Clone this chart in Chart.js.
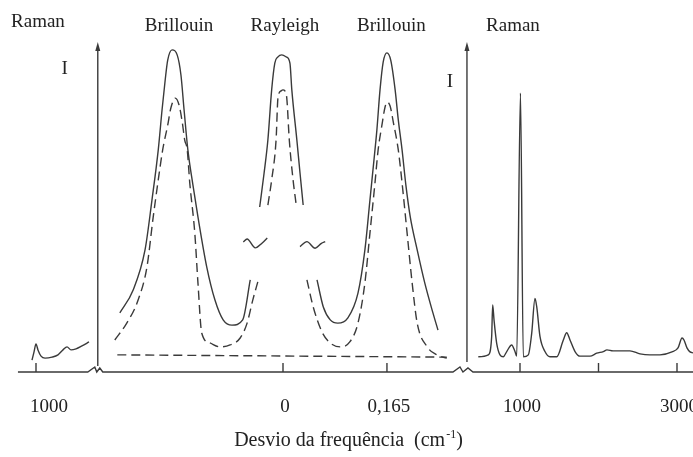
<!DOCTYPE html>
<html>
<head>
<meta charset="utf-8">
<script src="https://cdn.jsdelivr.net/npm/chart.js@4"></script>
<style>
  body { margin: 0; background: #fff; }
</style>
</head>
<body>
<canvas id="chart" width="693" height="457"></canvas>
<script>
// shift in cm-1, intensity in arbitrary units (0-100)

// anti-Stokes Raman piece (left of the first break)
let ramanLeftShift = [-1051, -1025, -1000, -975, -936, -885, -796, -720, -656, -605, -554, -490, -414, -325];
let ramanLeftInt   = [3.6, 6.1, 8.5, 6.7, 4.8, 4.2, 4.5, 5.2, 6.7, 7.6, 6.7, 7.0, 7.9, 9.1];

// solid envelope: left Brillouin + Rayleigh wing
let solidLeftShift = [-0.259, -0.238, -0.219, -0.208, -0.198, -0.192, -0.187, -0.183, -0.176, -0.168, -0.162, -0.157, -0.151, -0.143, -0.135, -0.121, -0.108, -0.095, -0.081, -0.064, -0.052];
let solidLeftInt   = [17.9, 24.8, 37.0, 52.1, 67.3, 79.4, 88.5, 94.5, 97.6, 96.1, 90.0, 79.4, 67.3, 56.7, 47.0, 31.8, 21.8, 15.8, 14.2, 15.8, 27.9];

// solid Rayleigh peak top
let rayleighShift = [-0.037, -0.030, -0.024, -0.018, -0.013, -0.008, -0.002, 0.005, 0.011, 0.014, 0.022, 0.027, 0.032];
let rayleighInt   = [50.0, 60.3, 70.3, 85.5, 93.6, 95.5, 96.1, 95.5, 93.6, 85.5, 70.3, 60.3, 50.6];

// solid envelope: Rayleigh wing + right Brillouin
let solidRightShift = [0.054, 0.064, 0.075, 0.087, 0.103, 0.119, 0.130, 0.138, 0.146, 0.149, 0.154, 0.159, 0.165, 0.171, 0.178, 0.183, 0.189, 0.195, 0.202, 0.213, 0.225, 0.238, 0.246];
let solidRightInt   = [27.9, 19.7, 15.8, 14.8, 16.4, 23.9, 37.0, 52.1, 67.3, 73.3, 85.5, 93.9, 96.7, 94.5, 85.5, 76.4, 67.3, 56.7, 47.0, 37.0, 27.0, 17.9, 12.7];

// dashed components
let dashLeftShift = [-0.267, -0.248, -0.230, -0.216, -0.206, -0.198, -0.191, -0.183, -0.178, -0.171, -0.165, -0.160, -0.156, -0.152, -0.148, -0.140, -0.135, -0.129, -0.116, -0.100, -0.084, -0.068, -0.057, -0.048, -0.040];
let dashLeftInt   = [9.7, 14.8, 21.8, 31.8, 47.0, 58.2, 67.3, 74.8, 80.0, 83.0, 80.9, 75.8, 70.3, 67.3, 57.3, 42.1, 27.0, 11.8, 8.8, 7.6, 8.2, 10.3, 14.8, 21.8, 27.3];

let dashRayShift = [-0.024, -0.018, -0.011, -0.008, -0.003, 0, 0.003, 0.006, 0.010, 0.016, 0.021];
let dashRayInt   = [50.6, 58.2, 70.3, 83.0, 85.2, 85.5, 85.2, 83.0, 70.3, 58.2, 50.6];

let dashRightShift = [0.038, 0.048, 0.062, 0.075, 0.091, 0.106, 0.119, 0.130, 0.138, 0.146, 0.151, 0.157, 0.162, 0.165, 0.170, 0.175, 0.183, 0.189, 0.197, 0.205, 0.213, 0.229, 0.244, 0.260];
let dashRightInt   = [27.9, 19.7, 12.1, 8.8, 7.6, 9.1, 14.8, 27.0, 42.1, 57.3, 67.3, 74.8, 80.3, 81.8, 80.6, 75.8, 67.3, 57.3, 42.1, 27.0, 14.8, 7.6, 5.2, 4.2];

let dashBaseShift = [-0.263, 0.260];
let dashBaseInt   = [5.2, 4.5];

// intensity-break marks
let tildeLeftShift  = [-0.063, -0.057, -0.044, -0.033, -0.025];
let tildeLeftInt    = [39.4, 40.3, 37.6, 39.1, 40.6];
let tildeRightShift = [0.027, 0.038, 0.051, 0.061, 0.067];
let tildeRightInt   = [38.0, 39.5, 37.5, 39.0, 39.5];

// Stokes Raman spectrum (right of the second break)
let ramanRightShift = [469, 596, 639, 652, 669, 703, 745, 787, 831, 894, 936, 958, 1006, 1042, 1106, 1149, 1191, 1213, 1255, 1318, 1382, 1468, 1552, 1595, 1637, 1701, 1764, 1892, 1977, 2061, 2108, 2185, 2401, 2529, 2656, 2783, 2936, 3013, 3064, 3089, 3127, 3166, 3204];
let ramanRightInt   = [4.6, 5.2, 10.7, 20.3, 15.8, 8.7, 5.2, 4.6, 6.2, 8.2, 6.2, 4.8, 84.5, 4.6, 5.2, 11.7, 22.3, 19.8, 10.7, 6.2, 4.6, 4.6, 9.7, 11.9, 9.7, 6.2, 4.8, 4.8, 5.7, 6.2, 6.7, 6.4, 6.4, 5.5, 5.2, 5.2, 6.1, 7.3, 10.3, 9.7, 7.3, 6.1, 5.8];

// axis ticks and labels
let ticksLeft   = [-1000];
let labelsLeft  = ['1000'];
let ticksMid    = [0, 0.165];
let labelsMid   = ['0', '0,165'];
let ticksRight  = [1000, 2000, 3000];
let labelsRight = ['1000', '', '3000'];

let peakNames = ['Raman', 'Brillouin', 'Rayleigh', 'Brillouin', 'Raman'];
let peakAxes  = ['x1', 'x2', 'x2', 'x2', 'x3'];
let peakAt    = [-975, -0.165, 0.003, 0.172, 910];

let baselineStart = -1230;   // on x1
let leftAxisAt = -0.294;     // on x2
let rightAxisAt = 0.292;     // on x2

const W = 693;
const INK = '#3a3a3a';
const TEXT = '#222';
const SERIF = '"Liberation Serif", "DejaVu Serif", serif';

// each piece has its own linear scale, placed so the pieces sit side by side
function span(anchorPx, anchorVal, pxPerUnit) {
    return { min: anchorVal - anchorPx / pxPerUnit, max: anchorVal + (W - anchorPx) / pxPerUnit };
}
let spanLeft = span(36, -1000, 0.0785);
let spanMid = span(283, 0, 630);
let spanRight = span(520, 1000, 0.0785);

function pts(xs, ys) {
    return xs.map((x, i) => ({x: x, y: ys[i]}));
}

function line(axis, xs, ys, dashed) {
    return {
        xAxisID: axis,
        yAxisID: 'y',
        data: pts(xs, ys),
        borderColor: INK,
        borderWidth: 1.4,
        borderDash: dashed ? [9, 5] : [],
        pointRadius: 0,
        fill: false,
        cubicInterpolationMode: 'monotone'
    };
}

// AXES, BREAKS, LABELS
const frame = {
    id: 'frame',
    afterDatasetsDraw(chart) {
        let ctx = chart.ctx;
        let s = chart.scales;
        let y0 = s.y.getPixelForValue(0);
        let top = s.y.getPixelForValue(100);
        let axL = s.x2.getPixelForValue(leftAxisAt);
        let axR = s.x2.getPixelForValue(rightAxisAt);

        ctx.save();
        ctx.strokeStyle = INK;
        ctx.fillStyle = INK;
        ctx.lineWidth = 1.4;

        // baseline with the two breaks
        ctx.beginPath();
        ctx.moveTo(s.x1.getPixelForValue(baselineStart), y0);
        ctx.lineTo(axL - 10, y0);
        [[-3, -5], [-1, 0], [2, -4], [5, 0]].forEach(p => ctx.lineTo(axL + p[0], y0 + p[1]));
        ctx.lineTo(axR - 14, y0);
        [[-7, -5], [-4, 0], [1, -4], [6, 0]].forEach(p => ctx.lineTo(axR + p[0], y0 + p[1]));
        ctx.lineTo(W, y0);
        ctx.stroke();

        // intensity axes with arrows
        [[axL, y0 - 6], [axR, y0 - 10]].forEach(a => {
            ctx.beginPath();
            ctx.moveTo(a[0], a[1]);
            ctx.lineTo(a[0], top + 6);
            ctx.stroke();
            ctx.beginPath();
            ctx.moveTo(a[0], top);
            ctx.lineTo(a[0] - 2.5, top + 9);
            ctx.lineTo(a[0] + 2.5, top + 9);
            ctx.closePath();
            ctx.fill();
        });

        // ticks + labels
        ctx.font = '19px ' + SERIF;
        ctx.textAlign = 'center';
        ctx.textBaseline = 'alphabetic';
        let sets = [[s.x1, ticksLeft, labelsLeft, 13], [s.x2, ticksMid, labelsMid, 2], [s.x3, ticksRight, labelsRight, 2]];
        sets.forEach(set => {
            set[1].forEach((v, i) => {
                let px = set[0].getPixelForValue(v);
                ctx.strokeStyle = INK;
                ctx.beginPath();
                ctx.moveTo(px, y0);
                ctx.lineTo(px, y0 - 9);
                ctx.stroke();
                ctx.fillStyle = TEXT;
                ctx.fillText(set[2][i], px + set[3], y0 + 40);
            });
        });

        // peak names
        peakNames.forEach((name, i) => {
            let px = s[peakAxes[i]].getPixelForValue(peakAt[i]);
            ctx.fillText(name, px, i === 0 ? 27 : 31);
        });

        // I labels
        ctx.fillText('I', axL - 33, 74);
        ctx.fillText('I', axR - 17, 87);

        // axis title with superscript
        let main = 'Desvio da frequência  (cm';
        let sup = '-1';
        let close = ')';
        ctx.font = '20px ' + SERIF;
        let wMain = ctx.measureText(main).width;
        let wClose = ctx.measureText(close).width;
        ctx.font = '12px ' + SERIF;
        let wSup = ctx.measureText(sup).width;
        let x = 348 - (wMain + wSup + wClose) / 2;
        ctx.textAlign = 'left';
        ctx.font = '20px ' + SERIF;
        ctx.fillText(main, x, 446);
        ctx.font = '12px ' + SERIF;
        ctx.fillText(sup, x + wMain + 1, 438);
        ctx.font = '20px ' + SERIF;
        ctx.fillText(close, x + wMain + wSup + 1, 446);

        ctx.restore();
    }
};

new Chart(document.getElementById('chart'), {
    type: 'line',
    data: {
        datasets: [
            line('x1', ramanLeftShift, ramanLeftInt, false),
            line('x2', solidLeftShift, solidLeftInt, false),
            line('x2', rayleighShift, rayleighInt, false),
            line('x2', solidRightShift, solidRightInt, false),
            line('x2', dashLeftShift, dashLeftInt, true),
            line('x2', dashRayShift, dashRayInt, true),
            line('x2', dashRightShift, dashRightInt, true),
            line('x2', dashBaseShift, dashBaseInt, true),
            line('x2', tildeLeftShift, tildeLeftInt, false),
            line('x2', tildeRightShift, tildeRightInt, false),
            line('x3', ramanRightShift, ramanRightInt, false)
        ]
    },
    options: {
        responsive: false,
        animation: false,
        layout: { padding: { top: 42, bottom: 85, left: 0, right: 0 } },
        plugins: { legend: { display: false }, tooltip: { enabled: false } },
        scales: {
            x1: { type: 'linear', display: false, min: spanLeft.min, max: spanLeft.max },
            x2: { type: 'linear', display: false, min: spanMid.min, max: spanMid.max },
            x3: { type: 'linear', display: false, min: spanRight.min, max: spanRight.max },
            y: { type: 'linear', display: false, min: 0, max: 100 }
        }
    },
    plugins: [frame]
});
</script>
</body>
</html>
